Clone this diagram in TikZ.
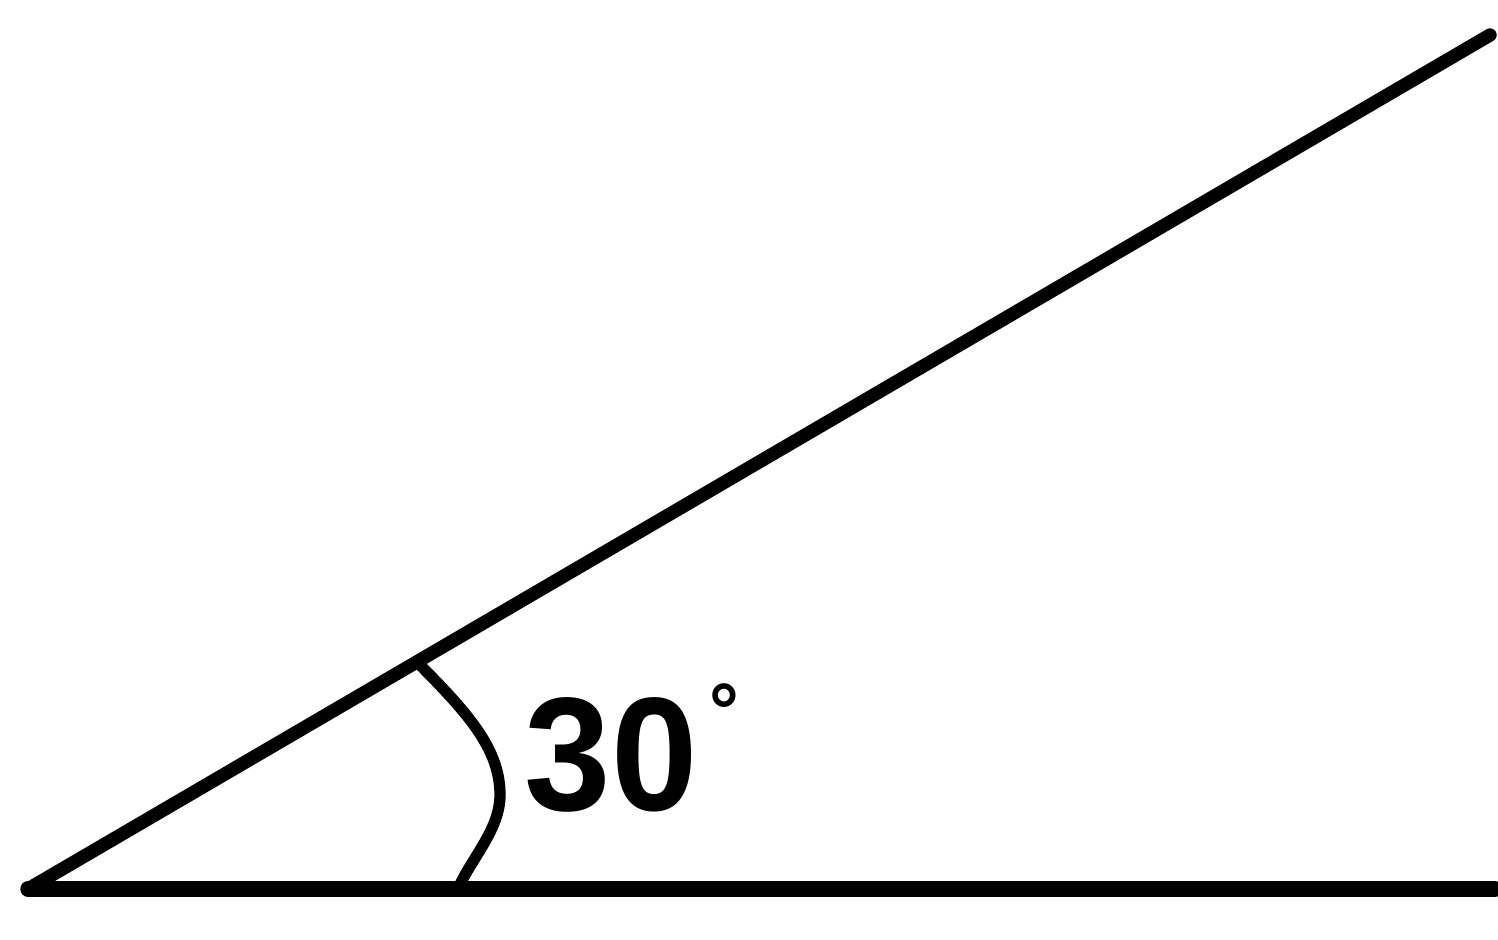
\documentclass[tikz,border=0pt]{standalone}
\usepackage{fontspec}
\setmainfont{Liberation Sans}
\begin{document}
\begin{tikzpicture}[x=0.01cm,y=-0.01cm]
\useasboundingbox (0,0) rectangle (1498,939);
\coordinate (O) at (28,889);
\coordinate (A) at (1490,35);
\coordinate (B) at (1495,889);
\coordinate (P) at (418,663);
\coordinate (Q) at (458,889);
\draw[line width=4.4pt, line cap=round] (O) -- (B);
\draw[line width=3.8pt, line cap=round] (O) -- (A);
\draw[line width=3.2pt] (P) .. controls (470,715) and (500,750) .. (500,795) .. controls (500,830) and (470,860) .. (Q);
\node[anchor=base west, inner sep=0pt, xscale=0.96, font=\bfseries\fontsize{46}{50}\selectfont] (angle) at (524,810) {30\kern0.08em\raisebox{0.45em}{\fontsize{22}{24}\selectfont °}};
\end{tikzpicture}
\end{document}
